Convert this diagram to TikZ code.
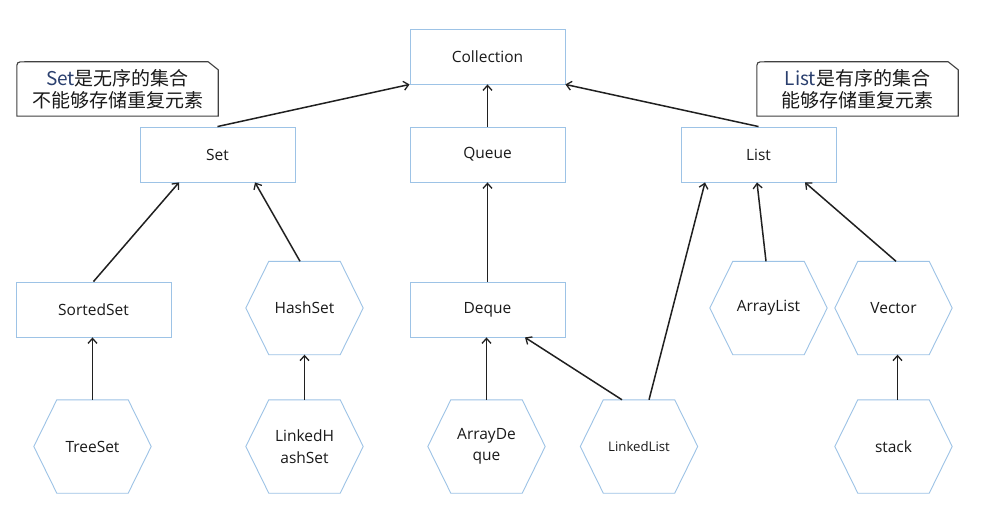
\documentclass[tikz,border=0pt]{standalone}
\usepackage{fontspec}
\setmainfont{Open Sans}
\newfontfamily\cjk{Noto Sans CJK SC}
\usetikzlibrary{arrows.meta,calc}
\definecolor{boxblue}{HTML}{9DC3E6}
\definecolor{arrowc}{HTML}{202020}
\definecolor{txt}{HTML}{1A1A1A}
\definecolor{callc}{HTML}{404040}
\definecolor{setblue}{HTML}{2A3F6E}
\tikzset{
 rectbox/.style={draw=boxblue, line width=0.9pt, minimum width=155pt, minimum height=55pt, inner sep=0pt, text=txt, font=\fontsize{15.5}{21}\selectfont},
 hexbox/.style={minimum width=117pt, minimum height=93pt, inner sep=0pt, text=txt, align=center, font=\fontsize{15.5}{21.5}\selectfont},
 hexline/.style={draw=boxblue, line width=0.9pt},
 inh/.style={draw=arrowc, line width=1.5pt, -{Straight Barb[length=5pt,width=9pt,line width=1.3pt]}},
 callout/.style={minimum width=201pt, minimum height=54pt, inner sep=0pt, align=center, text=txt, font=\cjk\fontsize{19}{21.5}\selectfont},
 callline/.style={draw=callc, line width=1.1pt},
}
\begin{document}
\begin{tikzpicture}[x=1pt,y=-1pt]
\useasboundingbox[fill=white] (0,0) rectangle (984,521);
% rectangles
\node[rectbox] (coll) at (487.5,56.5) {Collection};
\node[rectbox] (set) at (217.5,154.5) {Set};
\node[rectbox] (queue) at (487.5,154.5) {Queue};
\node[rectbox] (list) at (758.5,154.5) {List};
\node[rectbox] (sorted) at (93.5,309.5) {SortedSet};
\node[rectbox] (deque) at (487.5,309.5) {Deque};
% hexagons
\node[hexbox] (hash) at (304.5,308) {HashSet};
\node[hexbox] (arrlist) at (768.5,308) {ArrayList};
\node[hexbox] (vector) at (893.5,308) {Vector};
\node[hexbox] (treeset) at (92.5,446.5) {TreeSet};
\node[hexbox] (lhs) at (304.5,446.5) {LinkedH\\ashSet};
\node[hexbox] (adq) at (486.5,446.5) {ArrayDe\\que};
\node[hexbox, font=\fontsize{13.2}{18}\selectfont] (llist) at (639,446.5) {LinkedList};
\node[hexbox] (stack) at (893.5,446.5) {stack};
\foreach \n in {hash,arrlist,vector,treeset,lhs,adq,llist,stack}{
  \draw[hexline] (\n.west) -- ($(\n.north west)+(23pt,0pt)$) -- ($(\n.north east)+(-23pt,0pt)$) -- (\n.east) -- ($(\n.south east)+(-23pt,0pt)$) -- ($(\n.south west)+(23pt,0pt)$) -- cycle;
}
% callouts
\node[callout] (cl) at (117.5,89) {{\color{setblue}Set}是无序的集合\\不能够存储重复元素};
\node[callout] (cr) at (857.5,89) {{\color{setblue}List}是有序的集合\\能够存储重复元素};
\foreach \n in {cl,cr}{
  \draw[callline] (\n.south west) -- ($(\n.north west)+(0pt,-8pt)$) .. controls (\n.north west) .. ($(\n.north west)+(8pt,0pt)$) -- ($(\n.north east)+(-10pt,0pt)$) -- ($(\n.north east)+(0pt,-8pt)$) -- (\n.south east) -- cycle;
}
% arrows
\draw[inh] (set.north) -- (coll.south west);
\draw[inh] (queue.north) -- (coll.south);
\draw[inh] (list.north) -- (coll.south east);
\draw[inh] (sorted.north) -- ($(set.south)+(-38.5pt,0pt)$);
\draw[inh] ($(hash.north)+(-4.5pt,0pt)$) -- ($(set.south)+(37.5pt,0pt)$);
\draw[inh] (deque.north) -- (queue.south);
\draw[inh] ($(llist.north)+(10pt,0pt)$) -- ($(list.south)+(-53.5pt,0pt)$);
\draw[inh] ($(llist.north)+(-17pt,0pt)$) -- ($(deque.south)+(37.5pt,0pt)$);
\draw[inh] ($(arrlist.north)+(-2.5pt,0pt)$) -- ($(list.south)+(-1.5pt,0pt)$);
\draw[inh] ($(vector.north)+(2.5pt,0pt)$) -- ($(list.south)+(46.5pt,0pt)$);
\draw[inh] (treeset.north) -- (sorted.south -| treeset.north);
\draw[inh] (lhs.north) -- (hash.south);
\draw[inh] (adq.north) -- (deque.south -| adq.north);
\draw[inh] ($(stack.north)+(4pt,0pt)$) -- ($(vector.south)+(4pt,0pt)$);
\end{tikzpicture}
\end{document}
